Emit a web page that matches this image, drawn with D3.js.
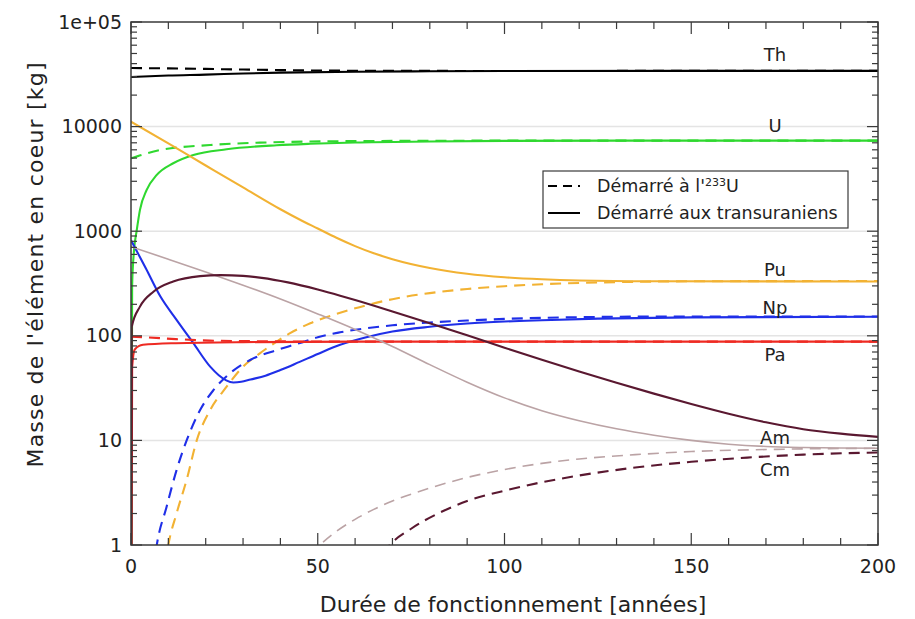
<!DOCTYPE html>
<html><head><meta charset="utf-8">
<script src="https://cdn.jsdelivr.net/npm/d3@7"></script>
<style>
body{margin:0;background:#fff;}
svg{display:block;}
text{font-family:"DejaVu Sans",sans-serif;fill:#222;}
</style></head>
<body><svg id="chart" width="915" height="619"></svg>
<script>
// ---- data (years, masses in kg) ----
const thSolidT = [0,5,10,20,30,40,60,80,100,150,200];
const thSolidV = [29800,30300,30800,31400,32200,32800,33500,33800,34000,34100,34100];
const thDashT = [0,10,20,30,40,60,80,100,150,200];
const thDashV = [36300,36000,35600,35100,34700,34200,34100,34000,34100,34100];

const uSolidT = [0,0.3,0.8,1.5,2.4,4.2,6.9,11.3,16.7,25.6,39,48,60,80,100,130,160,200];
const uSolidV = [0.01,300,650,1000,1600,2480,3450,4460,5350,6070,6630,6850,7050,7200,7300,7340,7340,7340];
const uDashT = [0,7.8,21.2,34.5,48,70,100,200];
const uDashV = [4970,5970,6670,7020,7200,7300,7340,7340];

const puSolidT = [0,10,20,30,40,45,50,55,60,65,70,80,90,100,110,120,140,200];
const puSolidV = [11140,6900,4250,2620,1620,1300,1060,865,720,615,540,445,392,363,347,338,332,330];
const puDashT = [8,10,12.2,14.9,17.6,21.2,25.6,30,34.5,39,42.6,48,56,63,70,80,90,100,110,120,135,150,200];
const puDashV = [0.3,1.0,2.0,4.2,10,19.5,32.6,50.7,68,88,106,132,166,196,224,256,280,298,311,320,328,332,334];

const npSolidT = [0,4,7.8,12.2,16.7,21.2,23.5,25.5,27.4,29.5,32,36,40,45,50,56,63,70,80,90,100,110,125,150,200];
const npSolidV = [820,440,240,142,85,50.7,42,37.5,35.8,36.3,38.2,41.5,47,56,67,82,97,110,122,131,137,141,146,150,152];
const npDashT = [6,6.9,9.5,12.2,14.9,18.5,22,26.5,31.9,39,42.6,46,50,56,63,70,80,90,100,110,125,150,200];
const npDashV = [0.6,1,2.3,5.2,10,19.5,30,43.8,58.7,73,80,87,97,108,118,126,134,140,145,148.5,151.5,153,153];

const paSolidT = [0,0.3,1,3.2,12,30,60,100,200];
const paSolidV = [0.01,50,74,82,85,87,88,88,88];
const paDashT = [0,3.2,12,21,40,60,100,200];
const paDashV = [98,97,93,90,88.5,88,88,88];

const amSolidT = [0,10,20,30,40,50,60,70,80,90,100,110,120,130,140,150,160,170,180,190,200];
const amSolidV = [711,540,408,305,225,162,115,79,53,36,25.5,19.2,15.4,12.9,11.2,10.0,9.2,8.75,8.55,8.45,8.4];
const amDashT = [40,45,50.6,55,60,65,70,80,90,100,110,120,135,150,175,200];
const amDashV = [0.3,0.6,1,1.35,1.76,2.19,2.63,3.5,4.42,5.27,6.03,6.64,7.31,7.82,8.24,8.41];

const cmSolidT = [0,0.2,2.4,6,11.3,18.5,24,30,35,42,50,56,60,70,80,90,100,110,120,130,140,150,160,170,180,190,200];
const cmSolidV = [0.01,122,190,264,330,372,380,374,358,324,277,242,220,171,132,101,76.9,59,45.6,35.6,28,22.3,18,14.9,12.8,11.6,10.8];
const cmDashT = [60,65,69.3,75,82.7,90,100,110,120,135,150,165,180,200];
const cmDashV = [0.3,0.6,1,1.43,2.04,2.63,3.31,3.98,4.62,5.5,6.24,6.85,7.31,7.67];

const elements = ["Th","U","Pu","Np","Pa","Am","Cm"];
const colors = ["#000000","#2fd82f","#f2b233","#1f2fe8","#ee2a22","#bba3a5","#5a1830"];
const labelValues = [48400, 10100, 425, 184, 65.5, 10.5, 5.2];

const xTickLabels = ["0","50","100","150","200"];
const xTickValues = [0,50,100,150,200];
const yTickLabels = ["1","10","100","1000","10000","1e+05"];
const yTickValues = [1,10,100,1000,10000,100000];

const legendLabels = ["Démarré à l'", "Démarré aux transuraniens"];
const xTitle = "Durée de fonctionnement [années]";
const yTitle = "Masse de l'élément en coeur [kg]";

// ---- build series ----
const series = [
  {el:"Th", t:thSolidT, v:thSolidV, dash:false},
  {el:"Th", t:thDashT, v:thDashV, dash:true},
  {el:"U", t:uSolidT, v:uSolidV, dash:false},
  {el:"U", t:uDashT, v:uDashV, dash:true},
  {el:"Pu", t:puSolidT, v:puSolidV, dash:false},
  {el:"Pu", t:puDashT, v:puDashV, dash:true},
  {el:"Np", t:npSolidT, v:npSolidV, dash:false},
  {el:"Np", t:npDashT, v:npDashV, dash:true},
  {el:"Pa", t:paSolidT, v:paSolidV, dash:false},
  {el:"Pa", t:paDashT, v:paDashV, dash:true},
  {el:"Am", t:amSolidT, v:amSolidV, dash:false},
  {el:"Am", t:amDashT, v:amDashV, dash:true},
  {el:"Cm", t:cmSolidT, v:cmSolidV, dash:false},
  {el:"Cm", t:cmDashT, v:cmDashV, dash:true}
];

const svg = d3.select("#chart");
const L = 131, R = 878, T = 22, B = 545;
const x = d3.scaleLinear().domain([0,200]).range([L,R]);
const y = d3.scaleLog().domain([1,1e5]).range([B,T]);
const color = d3.scaleOrdinal().domain(elements).range(colors);

svg.append("defs").append("clipPath").attr("id","clip")
  .append("rect").attr("x",L).attr("y",T).attr("width",R-L).attr("height",B-T);

// grid
svg.append("g").selectAll("line").data([10,100,1000,10000]).join("line")
  .attr("x1",L).attr("x2",R).attr("y1",d=>y(d)).attr("y2",d=>y(d))
  .attr("stroke","#e4e4e4").attr("stroke-width",1.5);

// lines
const line = d3.line().x(d=>x(d[0])).y(d=>y(Math.max(d[1],1e-3))).curve(d3.curveMonotoneX);
const g = svg.append("g").attr("clip-path","url(#clip)");
series.forEach(s=>{
  const pts = s.t.map((t,i)=>[t,s.v[i]]);
  g.append("path").attr("d",line(pts)).attr("fill","none")
    .attr("stroke",color(s.el))
    .attr("stroke-width", s.el==="Am" ? 1.6 : 2.1)
    .attr("stroke-dasharray", s.dash ? "11,7" : null);
});

// frame
svg.append("rect").attr("x",L).attr("y",T).attr("width",R-L).attr("height",B-T)
  .attr("fill","none").attr("stroke","#3a3a3a").attr("stroke-width",1.5);

// ticks
const tk = svg.append("g").attr("stroke","#3a3a3a").attr("stroke-width",1.2);
const xt = d3.range(0,201,10);
xt.forEach(t=>{
  const len = t%50===0 ? 12 : 7;
  tk.append("line").attr("x1",x(t)).attr("x2",x(t)).attr("y1",B).attr("y2",B-len);
  tk.append("line").attr("x1",x(t)).attr("x2",x(t)).attr("y1",T).attr("y2",T+len);
});
const yMinor = [];
for (let e=0;e<5;e++) for (let m=2;m<=9;m++) yMinor.push(m*Math.pow(10,e));
yMinor.forEach(v=>{
  tk.append("line").attr("x1",L).attr("x2",L+6).attr("y1",y(v)).attr("y2",y(v));
  tk.append("line").attr("x1",R).attr("x2",R-6).attr("y1",y(v)).attr("y2",y(v));
});
yTickValues.forEach(v=>{
  tk.append("line").attr("x1",L).attr("x2",L+11).attr("y1",y(v)).attr("y2",y(v));
  tk.append("line").attr("x1",R).attr("x2",R-11).attr("y1",y(v)).attr("y2",y(v));
});

// tick labels
svg.append("g").selectAll("text").data(yTickValues).join("text")
  .attr("x",L-9).attr("y",d=>y(d)).attr("dy","0.35em").attr("text-anchor","end")
  .attr("font-size",19).text((d,i)=>yTickLabels[i]);
svg.append("g").selectAll("text").data(xTickValues).join("text")
  .attr("x",d=>x(d)).attr("y",B+28).attr("text-anchor","middle")
  .attr("font-size",19).text((d,i)=>xTickLabels[i]);

// axis titles
svg.append("text").attr("x",513).attr("y",612).attr("text-anchor","middle")
  .attr("font-size",22).text(xTitle);
svg.append("text").attr("transform","translate(43,265) rotate(-90)").attr("text-anchor","middle")
  .attr("font-size",22).attr("textLength",405).attr("lengthAdjust","spacing").text(yTitle);

// element labels
svg.append("g").selectAll("text").data(elements).join("text")
  .attr("x",775).attr("y",(d,i)=>y(labelValues[i])).attr("dy","0.35em")
  .attr("text-anchor","middle").attr("font-size",18).text(d=>d);

// legend
const lg = svg.append("g");
lg.append("rect").attr("x",543).attr("y",171).attr("width",305).attr("height",57)
  .attr("fill","#fff").attr("stroke","#3a3a3a").attr("stroke-width",1.2);
[0,1].forEach(i=>{
  const yy = 186 + i*27;
  lg.append("line").attr("x1",548).attr("x2",580).attr("y1",yy).attr("y2",yy)
    .attr("stroke","#000").attr("stroke-width",2).attr("stroke-dasharray", i===0 ? "9,6" : null);
  const t = lg.append("text").attr("x",597).attr("y",yy).attr("dy","0.35em").attr("font-size",17.5);
  t.append("tspan").text(legendLabels[i]);
  if (i===0){
    t.append("tspan").attr("font-size",11).attr("dy","-0.6em").text("233");
    t.append("tspan").attr("dy","0.35em").attr("font-size",17.5).text("U");
  }
});
</script></body></html>
